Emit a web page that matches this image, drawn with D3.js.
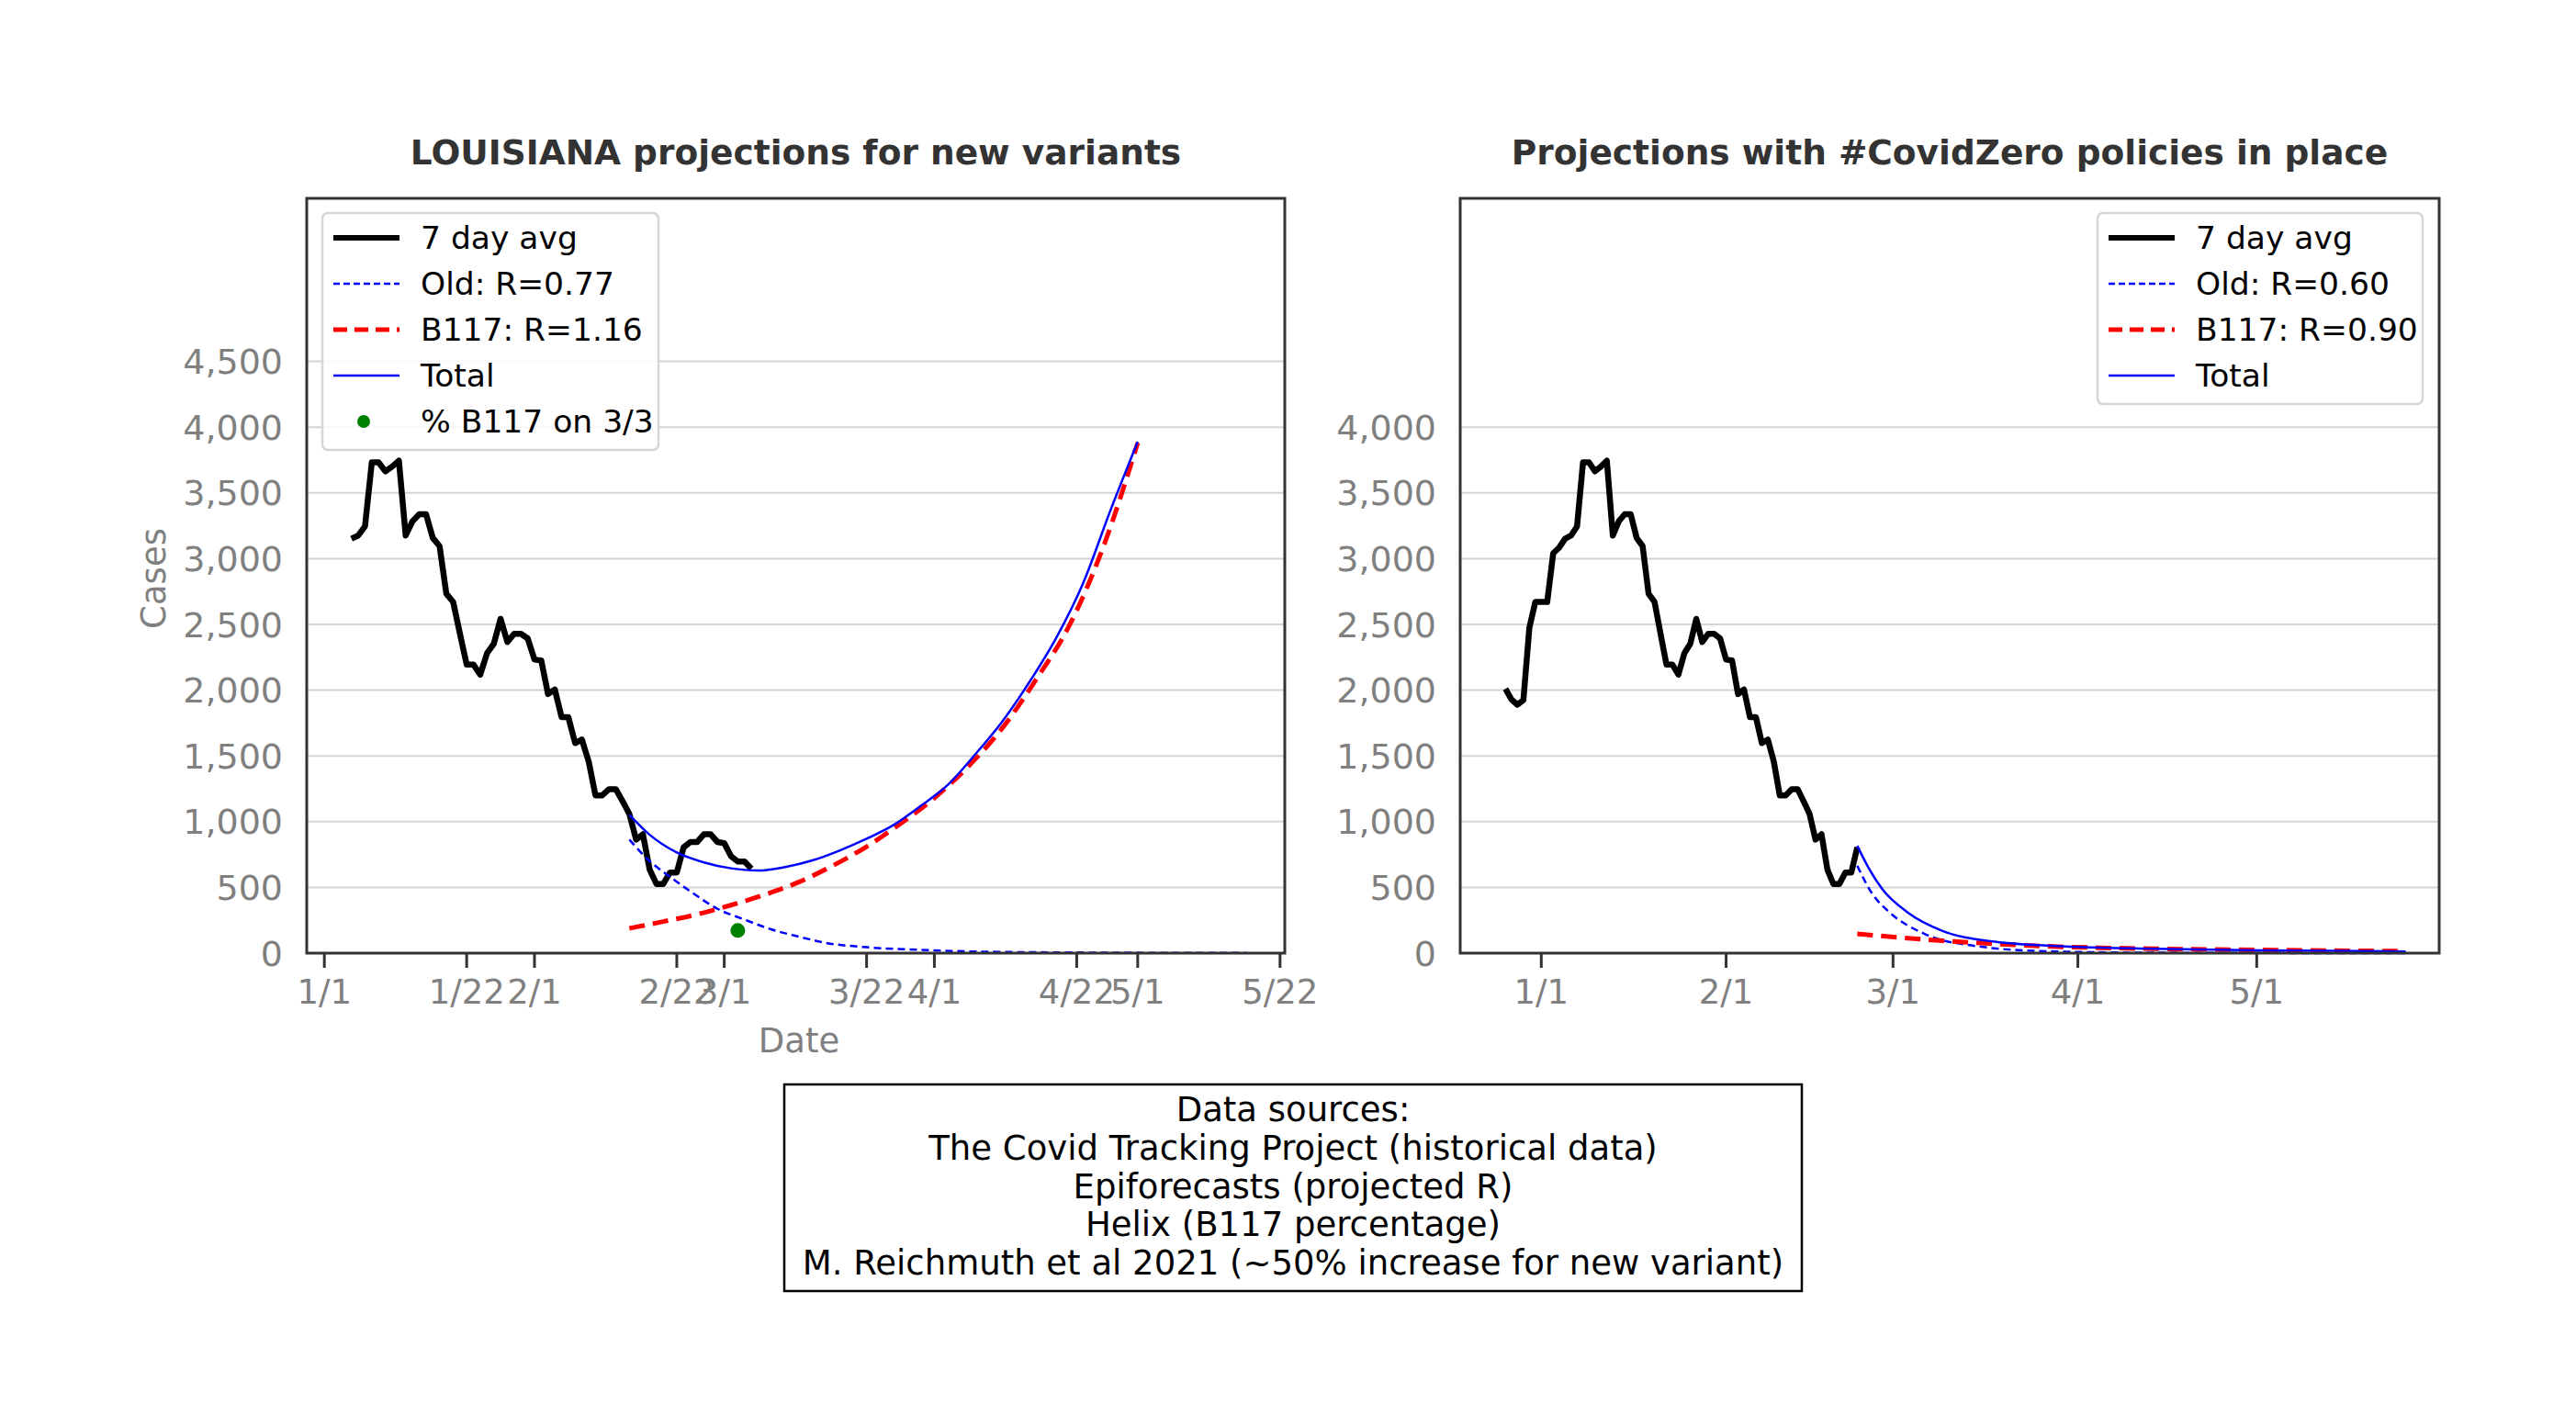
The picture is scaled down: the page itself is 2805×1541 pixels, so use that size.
<!DOCTYPE html>
<html>
<head>
<meta charset="utf-8">
<script src="https://cdn.jsdelivr.net/npm/d3@7"></script>
<style>
  body { margin: 0; background: #fff; }
  text { font-family: "DejaVu Sans", sans-serif; }
</style>
</head>
<body>
<svg id="chart" width="2805" height="1541"></svg>
<script>
// daily 7 day average, starting 12/26 (day -6 from 1/1)
const histStartDay = -6;
const histValues = [2010, 1929, 1889, 1924, 2474, 2671, 2671, 2671, 3041, 3084,
  3152, 3176, 3246, 3732, 3732, 3664, 3700, 3745, 3176, 3284, 3338, 3338, 3157, 3095,
  2733, 2671, 2430, 2194, 2194, 2118, 2280, 2353, 2542, 2366, 2428, 2428, 2393, 2232,
  2226, 1970, 2005, 1794, 1794, 1597, 1624, 1457, 1200, 1200, 1247, 1247, 1155, 1058,
  863, 904, 634, 526, 526, 613, 613, 804, 845, 845, 904, 904, 845, 836, 737, 696, 696, 642];

// left panel projections: [day since 1/1, cases]
const leftOld = [[45, 863], [48, 700], [51, 580], [54, 470], [58, 337], [62, 255], [66, 180],
  [70, 125], [74, 78], [80, 45], [88, 25], [96, 12], [110, 5], [136, 1]];
const leftB117 = [[45, 189], [50, 240], [55, 295], [60, 365], [65, 445], [70, 540], [75, 665],
  [80, 810], [85, 985], [90, 1180], [95, 1420], [100, 1710], [105, 2080], [110, 2500],
  [115, 3100], [120, 3880]];
const leftTotal = [[45, 1052], [48, 900], [52, 765], [56, 690], [60, 645], [64, 628], [68, 655],
  [72, 705], [76, 780], [80, 870], [84, 975], [88, 1120], [92, 1280], [96, 1510], [100, 1760],
  [104, 2060], [108, 2400], [112, 2820], [116, 3370], [120, 3889]];
const b117Point = [[61, 172]];

// right panel projections
const rightOld = [[53, 664], [55.5, 452], [58.4, 311], [64.3, 146], [73.2, 52], [85, 14], [102.7, 3], [145, 0]];
const rightB117 = [[53, 146], [67.3, 94], [85, 52], [102.7, 33], [120.4, 24], [145, 15]];
const rightTotal = [[53, 816], [55, 640], [57.2, 487], [61.4, 311], [67.3, 169], [76.1, 87],
  [87.3, 52], [102.7, 33], [120.4, 21], [145, 13]];

const leftTicks = [[0, "1/1"], [21, "1/22"], [31, "2/1"], [52, "2/22"], [59, "3/1"], [80, "3/22"],
  [90, "4/1"], [111, "4/22"], [120, "5/1"], [141, "5/22"]];
const rightTicks = [[0, "1/1"], [31, "2/1"], [59, "3/1"], [90, "4/1"], [120, "5/1"]];

const svg = d3.select("#chart");
const fmt = d3.format(",");
const hist = histValues.map((v, i) => [histStartDay + i, v]);

function panel(opt) {
  const x = d3.scaleLinear().domain(opt.xDomain).range([opt.left, opt.right]);
  const y = d3.scaleLinear().domain([0, 5740]).range([1038, 216]);
  const g = svg.append("g");

  g.selectAll(".grid").data(opt.yTicks).enter().append("line")
    .attr("x1", opt.left).attr("x2", opt.right)
    .attr("y1", d => y(d)).attr("y2", d => y(d))
    .attr("stroke", "#d4d4d4").attr("stroke-width", 2);

  const line = d3.line().x(d => x(d[0])).y(d => y(d[1]));
  const smooth = d3.line().x(d => x(d[0])).y(d => y(d[1])).curve(d3.curveMonotoneX);

  g.append("path").datum(opt.hist).attr("d", line).attr("fill", "none")
    .attr("stroke", "#000").attr("stroke-width", 6.5).attr("stroke-linejoin", "round");
  g.append("path").datum(opt.old).attr("d", smooth).attr("fill", "none")
    .attr("stroke", "#0000ff").attr("stroke-width", 2.5).attr("stroke-dasharray", "8,5");
  g.append("path").datum(opt.b117).attr("d", smooth).attr("fill", "none")
    .attr("stroke", "#ff0000").attr("stroke-width", 5).attr("stroke-dasharray", "17,9");
  g.append("path").datum(opt.total).attr("d", smooth).attr("fill", "none")
    .attr("stroke", "#0000ff").attr("stroke-width", 2.5);
  if (opt.point) {
    g.selectAll(".pt").data(opt.point).enter().append("circle")
      .attr("cx", d => x(d[0])).attr("cy", d => y(d[1])).attr("r", 8).attr("fill", "#008000");
  }

  g.append("rect").attr("x", opt.left).attr("y", 216)
    .attr("width", opt.right - opt.left).attr("height", 1038 - 216)
    .attr("fill", "none").attr("stroke", "#333").attr("stroke-width", 3);

  // y tick labels
  g.selectAll(".yl").data(opt.yTicks).enter().append("text")
    .attr("x", opt.left - 26).attr("y", d => y(d)).attr("dy", "0.36em")
    .attr("text-anchor", "end").attr("font-size", 38).attr("fill", "#808080")
    .text(d => fmt(d));

  // x ticks
  g.selectAll(".xt").data(opt.xTicks).enter().append("line")
    .attr("x1", d => x(d[0])).attr("x2", d => x(d[0]))
    .attr("y1", 1038).attr("y2", 1054).attr("stroke", "#333").attr("stroke-width", 3);
  g.selectAll(".xl").data(opt.xTicks).enter().append("text")
    .attr("x", d => x(d[0])).attr("y", 1093)
    .attr("text-anchor", "middle").attr("font-size", 37).attr("fill", "#808080")
    .text(d => d[1]);

  g.append("text").attr("x", (opt.left + opt.right) / 2).attr("y", 179)
    .attr("text-anchor", "middle").attr("font-size", 37.5).attr("font-weight", "bold")
    .attr("fill", "#333").text(opt.title);

  // legend
  const L = opt.legend;
  const lg = g.append("g");
  lg.append("rect").attr("x", L.x).attr("y", 232).attr("width", L.w)
    .attr("height", L.items.length * 50 + 8).attr("rx", 6)
    .attr("fill", "#fff").attr("fill-opacity", 0.85).attr("stroke", "#d6d6d6").attr("stroke-width", 2.5);
  L.items.forEach((it, i) => {
    const cy = 259 + i * 50;
    if (it.type === "dot") {
      lg.append("circle").attr("cx", L.x + 45).attr("cy", cy).attr("r", 7).attr("fill", it.color);
    } else {
      lg.append("line").attr("x1", L.x + 12).attr("x2", L.x + 84).attr("y1", cy).attr("y2", cy)
        .attr("stroke", it.color).attr("stroke-width", it.w)
        .attr("stroke-dasharray", it.dash || null);
    }
    lg.append("text").attr("x", L.x + 107).attr("y", cy).attr("dy", "0.36em")
      .attr("font-size", 34.5).attr("fill", "#000").text(it.label);
  });
  return { x, y };
}

panel({
  left: 334, right: 1399, xDomain: [-2.6, 141.7],
  yTicks: d3.range(0, 4501, 500), xTicks: leftTicks,
  hist: hist.filter(d => d[0] >= 4),
  old: leftOld, b117: leftB117, total: leftTotal, point: b117Point,
  title: "LOUISIANA projections for new variants",
  legend: { x: 351, w: 366, items: [
    { label: "7 day avg", color: "#000", w: 6 },
    { label: "Old: R=0.77", color: "#0000ff", w: 2.5, dash: "7,4" },
    { label: "B117: R=1.16", color: "#ff0000", w: 5, dash: "15,8" },
    { label: "Total", color: "#0000ff", w: 2.5 },
    { label: "% B117 on 3/3", color: "#008000", type: "dot" }
  ] }
});

panel({
  left: 1590, right: 2656, xDomain: [-13.6, 150.6],
  yTicks: d3.range(0, 4001, 500), xTicks: rightTicks,
  hist: hist.filter(d => d[0] <= 53),
  old: rightOld, b117: rightB117, total: rightTotal,
  title: "Projections with #CovidZero policies in place",
  legend: { x: 2284, w: 354, items: [
    { label: "7 day avg", color: "#000", w: 6 },
    { label: "Old: R=0.60", color: "#0000ff", w: 2.5, dash: "7,4" },
    { label: "B117: R=0.90", color: "#ff0000", w: 5, dash: "15,8" },
    { label: "Total", color: "#0000ff", w: 2.5 }
  ] }
});

// axis labels
svg.append("text").attr("x", 870).attr("y", 1146).attr("text-anchor", "middle")
  .attr("font-size", 37).attr("fill", "#808080").text("Date");
svg.append("text").attr("transform", "translate(180,630) rotate(-90)")
  .attr("text-anchor", "middle").attr("font-size", 37).attr("fill", "#808080").text("Cases");

// data sources box
const sources = ["Data sources:", "The Covid Tracking Project (historical data)",
  "Epiforecasts (projected R)", "Helix (B117 percentage)",
  "M. Reichmuth et al 2021 (~50% increase for new variant)"];
svg.append("rect").attr("x", 854).attr("y", 1181).attr("width", 1108).attr("height", 225)
  .attr("fill", "#fff").attr("stroke", "#000").attr("stroke-width", 2.5);
svg.selectAll(".src").data(sources).enter().append("text")
  .attr("x", 1408).attr("y", (d, i) => 1208 + i * 41.7).attr("dy", "0.36em")
  .attr("text-anchor", "middle").attr("font-size", 37).attr("fill", "#000").text(d => d);
</script>
</body>
</html>
